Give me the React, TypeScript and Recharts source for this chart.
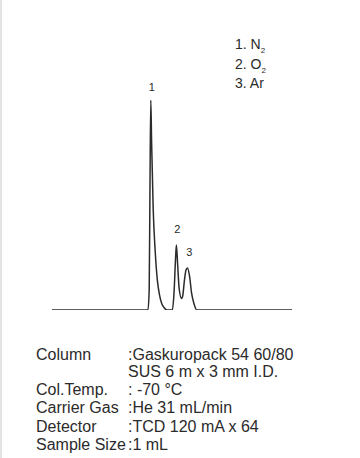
import { Line, LineChart, ReferenceDot, XAxis, YAxis } from "recharts";

// retention time (min) and detector signal
const times = [
  0, 4.8, 4.86, 4.9, 4.94, 4.98, 5.06, 5.16, 5.27, 5.38, 5.49, 5.62, 5.75, 6.02, 6.1, 6.18, 6.22, 6.28,
  6.36, 6.48, 6.54, 6.62, 6.7, 6.77, 6.88, 6.98, 7.1, 7.24, 12,
];
const signal = [
  0, 0, 10, 60, 100, 80, 48, 28, 14, 7, 3, 1, 0, 0, 8, 25, 31, 22, 10, 5.5, 7, 14, 19, 20, 16, 8, 3, 0, 0,
];

const peakNames = ["1", "2", "3"];
const peakTimes = [4.94, 6.22, 6.77];
const peakHeights = [100, 31, 20];

const legendNums = ["1.", "2.", "3."];
const legendGas = ["N", "O", "Ar"];
const legendSub = ["2", "2", ""];

const specLabels = ["Column", "", "Col.Temp.", "Carrier Gas", "Detector", "Sample Size"];
const specValues = [
  ":Gaskuropack 54 60/80",
  " SUS 6 m x 3 mm I.D.",
  ": -70 °C",
  ":He 31 mL/min",
  ":TCD 120 mA x 64",
  ":1 mL",
];
const specRowY = [355, 372, 390, 408, 427, 445];

const data = times.map((t, i) => ({ t, v: signal[i] }));

const font = '"Liberation Sans", Arial, Helvetica, sans-serif';
const ink = "#2b2b2b";

export default function App() {
  return (
    <div
      style={{
        position: "absolute",
        left: 0,
        top: 0,
        width: 360,
        height: 458,
        background: "#fff",
        fontFamily: font,
        color: ink,
        overflow: "hidden",
      }}
    >
      <div style={{ position: "absolute", left: 0, top: 0, width: 2, height: 458, background: "#e4e4e4" }} />
      <LineChart width={360} height={458} data={data} margin={{ top: 100, right: 68, bottom: 148, left: 52 }}>
        <XAxis dataKey="t" type="number" domain={[0, 12]} hide />
        <YAxis type="number" domain={[0, 100]} hide allowDataOverflow />
        <Line
          type="monotone"
          dataKey="v"
          stroke={ink}
          strokeWidth={1.5}
          dot={false}
          isAnimationActive={false}
        />
        {peakNames.map((name, i) => (
          <ReferenceDot
            key={name}
            x={peakTimes[i]}
            y={peakHeights[i]}
            r={0}
            ifOverflow="visible"
            label={{
              value: name,
              position: "top",
              offset: i === 0 ? 9 : 12,
              dx: i === 2 ? 2 : 1,
              fill: ink,
              fontSize: 11,
              fontFamily: font,
            }}
          />
        ))}
      </LineChart>
      {legendNums.map((n, i) => (
        <div
          key={n}
          style={{ position: "absolute", left: 235, top: 36 + i * 19.5, fontSize: 14, lineHeight: "16px" }}
        >
          {n} {legendGas[i]}
          {legendSub[i] && <sub style={{ fontSize: 8 }}>{legendSub[i]}</sub>}
        </div>
      ))}
      {specLabels.map((label, i) => (
        <div key={i} style={{ position: "absolute", top: specRowY[i] - 9, fontSize: 16, lineHeight: "18px" }}>
          <span style={{ position: "absolute", left: 36, whiteSpace: "nowrap" }}>{label}</span>
          <span style={{ position: "absolute", left: 128, whiteSpace: "nowrap" }}>{specValues[i]}</span>
        </div>
      ))}
    </div>
  );
}
